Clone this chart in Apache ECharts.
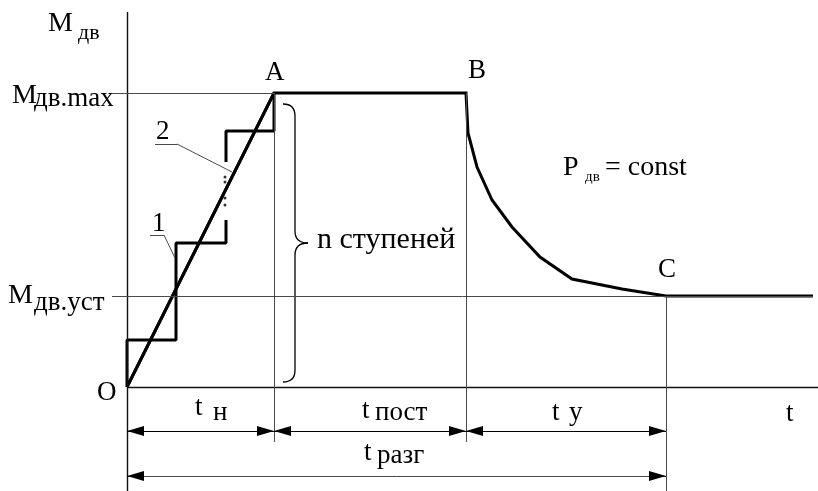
<!DOCTYPE html>
<html>
<head>
<meta charset="utf-8">
<script src="https://cdn.jsdelivr.net/npm/echarts@6/dist/echarts.min.js"></script>
<style>
  html, body { margin: 0; padding: 0; background: #fff; }
  #chart { width: 818px; height: 491px; }
</style>
</head>
<body>
<div id="chart"></div>
<script>
// time / torque values (origin O = 0,0)
const mainT = [0, 147, 339, 341, 350, 365, 385, 413, 445, 495, 539, 686];
const mainM = [0, 294, 294, 254, 220, 187, 160, 130, 108, 98, 91, 91];
const rampT = [0, 147];
const rampM = [0, 294];
const stepLowT = [0, 0, 49, 49, 99, 99];
const stepLowM = [0, 47, 47, 144, 144, 167];
const stepHighT = [99, 99, 147, 147];
const stepHighM = [225, 256, 256, 294];
const dotT = [98, 98, 98, 98];
const dotM = [210, 205, 189, 182];

const mMax = 294, mUst = 91;
const tA = 147, tB = 339, tC = 539, tEnd = 691;
const dimRow1 = -44, dimRow2 = -89;

function pts(xs, ys) { return xs.map((x, i) => [x, ys[i]]); }
function seg(x1, y1, x2, y2, a, b) {
  return [Object.assign({ coord: [x1, y1] }, a || {}), Object.assign({ coord: [x2, y2] }, b || {})];
}

// text labels: x = left edge, b = baseline, s = font size
function txt(str, x, b, s) {
  return {
    type: 'text', silent: true,
    style: { text: str, x: x, y: b - 0.84 * s, font: s + 'px "Liberation Serif"', fill: '#000' }
  };
}

const labels = [
  txt('M', 48, 33, 28), txt('дв', 78, 41, 22),
  txt('M', 12, 105, 28), txt('дв.max', 34, 108, 27),
  txt('M', 8, 305, 28), txt('дв.уст', 34, 312, 27),
  txt('O', 97, 402, 27),
  txt('A', 265, 82, 27),
  txt('B', 468, 80, 27),
  txt('C', 658, 279, 27),
  txt('P', 563, 177, 28), txt('дв', 585, 182, 15), txt('= const', 605, 177, 28),
  txt('n ступеней', 317, 250, 30),
  txt('1', 152, 233, 27),
  txt('2', 156, 141, 27),
  txt('t', 195, 417, 27), txt('н', 213, 422, 27),
  txt('t', 362, 420, 27), txt('пост', 375, 422, 27),
  txt('t', 552, 422, 27), txt('у', 569, 422, 27),
  txt('t', 786, 423, 27),
  txt('t', 364, 462, 27), txt('разг', 377, 465, 27)
];

let chart = echarts.init(document.getElementById('chart'));

const arrow = { symbol: 'triangle', symbolSize: [10, 17], symbolOffset: [0, 8.5] };
const noArrow = { symbol: 'none' };

let option = {
  animation: false,
  grid: { left: 0, right: 0, top: 0, bottom: 0 },
  xAxis: { type: 'value', min: -127, max: tEnd, show: false },
  yAxis: { type: 'value', min: -104, max: 387, show: false },
  series: [
    {
      name: 'axes', type: 'line', data: [], silent: true,
      markLine: {
        silent: true, symbol: 'none', label: { show: false },
        lineStyle: { color: '#111', width: 1.4, type: 'solid' },
        emphasis: { disabled: true },
        data: [
          seg(0, 375, 0, -104),
          seg(0, 0, tEnd, 0)
        ]
      }
    },
    {
      name: 'guides', type: 'line', data: [], silent: true,
      markLine: {
        silent: true, symbol: 'none', label: { show: false },
        lineStyle: { color: '#4a4a4a', width: 1, type: 'solid' },
        emphasis: { disabled: true },
        data: [
          seg(-15, mMax, tA, mMax),
          seg(-15, mUst, 686, mUst),
          seg(tA, mMax, tA, -55),
          seg(tB, mMax, tB, -55),
          seg(tC, mUst, tC, -104),
          seg(0, dimRow2, tC, dimRow2),
          // leaders for 1 and 2
          seg(28, 243, 50, 243),
          seg(50, 243, 105, 215),
          seg(23, 152, 37, 152),
          seg(37, 152, 48, 129)
        ]
      }
    },
    {
      name: 'dims', type: 'line', data: [], silent: true,
      markLine: {
        silent: true, label: { show: false },
        lineStyle: { color: '#000', width: 1, type: 'solid' },
        itemStyle: { color: '#000' },
        emphasis: { disabled: true },
        data: [
          seg(0, dimRow1, tA, dimRow1, arrow, arrow),
          seg(tA, dimRow1, tB, dimRow1, arrow, arrow),
          seg(tB, dimRow1, tC, dimRow1, arrow, arrow),
          seg(0, dimRow2, 17, dimRow2, arrow, noArrow),
          seg(tC - 17, dimRow2, tC, dimRow2, noArrow, arrow)
        ]
      }
    },
    {
      name: 'ramp', type: 'line', data: pts(rampT, rampM), showSymbol: false, silent: true,
      lineStyle: { color: '#000', width: 3 }
    },
    {
      name: 'OABC', type: 'line', data: pts(mainT, mainM), showSymbol: false, silent: true,
      lineStyle: { color: '#000', width: 3, join: 'miter' }
    },
    {
      name: 'stepsLow', type: 'line', data: pts(stepLowT, stepLowM), showSymbol: false, silent: true,
      lineStyle: { color: '#000', width: 3 }
    },
    {
      name: 'stepsHigh', type: 'line', data: pts(stepHighT, stepHighM), showSymbol: false, silent: true,
      lineStyle: { color: '#000', width: 3 }
    },
    {
      name: 'dots', type: 'scatter', data: pts(dotT, dotM), symbolSize: 3, silent: true,
      itemStyle: { color: '#000' }
    }
  ]
};
chart.setOption(option);

// curly brace next to the steps, built from curves and lines
const p = (x, y) => chart.convertToPixel({ gridIndex: 0 }, [x, y]);
const bTop = p(156, 283), bMid = p(168, 144), bTip = p(181, 144), bBot = p(156, 5);
const bx = bMid[0], r = 12;
const braceStyle = { fill: 'none', stroke: '#000', lineWidth: 1.3 };
const brace = [
  { type: 'bezierCurve', shape: { x1: bTop[0], y1: bTop[1], x2: bx, y2: bTop[1] + r, cpx1: bx, cpy1: bTop[1] } },
  { type: 'line', shape: { x1: bx, y1: bTop[1] + r, x2: bx, y2: bMid[1] - r } },
  { type: 'bezierCurve', shape: { x1: bx, y1: bMid[1] - r, x2: bTip[0], y2: bTip[1], cpx1: bx, cpy1: bMid[1] } },
  { type: 'bezierCurve', shape: { x1: bTip[0], y1: bTip[1], x2: bx, y2: bMid[1] + r, cpx1: bx, cpy1: bMid[1] } },
  { type: 'line', shape: { x1: bx, y1: bMid[1] + r, x2: bx, y2: bBot[1] - r } },
  { type: 'bezierCurve', shape: { x1: bx, y1: bBot[1] - r, x2: bBot[0], y2: bBot[1], cpx1: bx, cpy1: bBot[1] } }
].map(e => Object.assign(e, { silent: true, style: braceStyle }));

chart.setOption({ graphic: labels.concat(brace) });
</script>
</body>
</html>
